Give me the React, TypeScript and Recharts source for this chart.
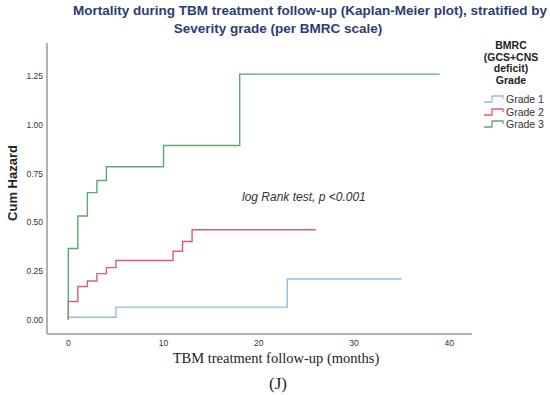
import { LineChart, Line, XAxis, YAxis, Legend } from 'recharts';

// Kaplan-Meier cumulative hazard
const grade1Time = [0, 0, 5, 23, 35];
const grade1Hazard = [0, 0.012, 0.064, 0.208, 0.208];

const grade2Time = [0, 0, 1, 2, 3, 4, 5, 11, 12, 13, 26];
const grade2Hazard = [0, 0.093, 0.17, 0.198, 0.236, 0.267, 0.303, 0.351, 0.401, 0.461, 0.461];

const grade3Time = [0, 0, 1, 2, 3, 4, 10, 18, 39];
const grade3Hazard = [0, 0.365, 0.532, 0.652, 0.714, 0.785, 0.894, 1.26, 1.26];

const xTicks = [0, 10, 20, 30, 40];
const yTicks = [0, 0.25, 0.5, 0.75, 1.0, 1.25];

const toPoints = (t: number[], h: number[]) => t.map((time, i) => ({ t: time, h: h[i] }));

const series = [
  { name: 'Grade 1', color: '#94bddc', data: toPoints(grade1Time, grade1Hazard) },
  { name: 'Grade 2', color: '#e2587a', data: toPoints(grade2Time, grade2Hazard) },
  { name: 'Grade 3', color: '#5fa872', data: toPoints(grade3Time, grade3Hazard) },
];

const sans = 'Arial, "Liberation Sans", sans-serif';
const serif = '"Times New Roman", "Liberation Serif", serif';

function StepIcon({ color }: { color: string }) {
  return (
    <svg width={20} height={8} style={{ marginRight: 2 }}>
      <path d="M0,7 H8 V1 H19 V4" fill="none" stroke={color} strokeWidth={1.3} />
    </svg>
  );
}

function LegendBox() {
  return (
    <div style={{ position: 'absolute', left: 470, top: 40, width: 82, fontFamily: sans, color: '#222' }}>
      <div style={{ textAlign: 'center', fontWeight: 'bold', fontSize: 10.5, lineHeight: '11.5px' }}>
        BMRC
        <br />
        (GCS+CNS
        <br />
        deficit)
        <br />
        Grade
      </div>
      <div style={{ marginTop: 7, marginLeft: 14 }}>
        {series.map((s) => (
          <div key={s.name} style={{ display: 'flex', alignItems: 'center', height: 12.5, fontSize: 10.5, color: '#333' }}>
            <StepIcon color={s.color} />
            {s.name}
          </div>
        ))}
      </div>
    </div>
  );
}

export default function App() {
  return (
    <div style={{ position: 'absolute', left: 0, top: 0, width: 550, height: 395, background: '#fff' }}>
      <div
        style={{
          position: 'absolute',
          left: 60,
          top: 2,
          width: 500,
          textAlign: 'center',
          fontFamily: sans,
          fontWeight: 'bold',
          fontSize: 13.5,
          lineHeight: '18px',
          color: '#2c3c74',
        }}
      >
        Mortality during TBM treatment follow-up (Kaplan-Meier plot), stratified by
        <br />
        <span style={{ position: 'relative', left: -32 }}>Severity grade (per BMRC scale)</span>
      </div>
      <LineChart width={550} height={395} margin={{ top: 43, right: 78, bottom: 41, left: 0 }}>
        <XAxis
          type="number"
          dataKey="t"
          domain={[-2.24, 42.4]}
          ticks={xTicks}
          allowDataOverflow
          height={20}
          tickLine={false}
          tickSize={3}
          tickMargin={3}
          axisLine={{ stroke: '#999', strokeWidth: 1.5 }}
          tick={{ fontSize: 8.5, fill: '#333', fontFamily: sans }}
        />
        <YAxis
          type="number"
          dataKey="h"
          domain={[-0.074, 1.42]}
          ticks={yTicks}
          allowDataOverflow
          width={47}
          tickLine={false}
          tickSize={2}
          tickMargin={2}
          tickFormatter={(v: number) => v.toFixed(2)}
          axisLine={{ stroke: '#999', strokeWidth: 1.5 }}
          tick={{ fontSize: 8.5, fill: '#333', fontFamily: sans }}
        />
        {series.map((s) => (
          <Line
            key={s.name}
            data={s.data}
            dataKey="h"
            name={s.name}
            type="stepAfter"
            stroke={s.color}
            strokeWidth={1.4}
            dot={false}
            isAnimationActive={false}
          />
        ))}
        <Legend content={() => null} />
      </LineChart>
      <div
        style={{
          position: 'absolute',
          left: 2,
          top: 183,
          transform: 'translate(-50%, -50%) rotate(-90deg)',
          marginLeft: 10,
          whiteSpace: 'nowrap',
          fontFamily: sans,
          fontWeight: 'bold',
          fontSize: 13,
          color: '#222',
        }}
      >
        Cum Hazard
      </div>
      <div
        style={{
          position: 'absolute',
          left: 242,
          top: 190,
          fontFamily: sans,
          fontStyle: 'italic',
          fontSize: 12,
          color: '#333',
          whiteSpace: 'nowrap',
        }}
      >
        log Rank test, p &lt;0.001
      </div>
      <div
        style={{
          position: 'absolute',
          left: 0,
          top: 350,
          width: 552,
          textAlign: 'center',
          fontFamily: serif,
          fontSize: 14.5,
          color: '#222',
        }}
      >
        TBM treatment follow-up (months)
      </div>
      <div
        style={{
          position: 'absolute',
          left: 0,
          top: 374,
          width: 556,
          textAlign: 'center',
          fontFamily: serif,
          fontSize: 17,
          color: '#222',
        }}
      >
        (J)
      </div>
      <LegendBox />
    </div>
  );
}
